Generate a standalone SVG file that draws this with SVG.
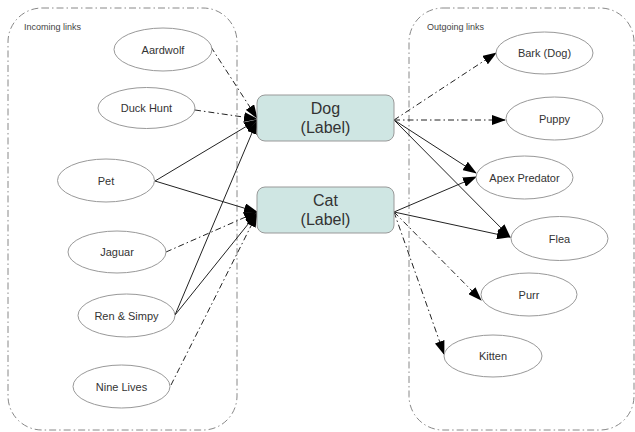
<svg xmlns="http://www.w3.org/2000/svg" width="635" height="432" viewBox="0 0 635 432">
<defs>
<style>
.cluster{fill:none;stroke:#888;stroke-width:1;stroke-dasharray:7,3,1.5,3}
.clabel{font-family:"Liberation Sans",Arial,sans-serif;font-size:9px;fill:#444}
.ell{fill:#fff;stroke:#999;stroke-width:1}
.etext{font-family:"Liberation Sans",Arial,sans-serif;font-size:11px;fill:#333;text-anchor:middle}
.box{fill:#cfe6e3;stroke:#999;stroke-width:1}
.btext{font-family:"Liberation Sans",Arial,sans-serif;font-size:16px;fill:#333;text-anchor:middle}
.e{fill:none;stroke:#222;stroke-width:1;marker-end:url(#arr)}
.dd{stroke-dasharray:6,3,1.5,3}
</style>
<marker id="arr" markerUnits="userSpaceOnUse" markerWidth="14" markerHeight="10" refX="13" refY="5" orient="auto" viewBox="0 0 14 10">
<path d="M0,0 L14,5 L0,10 z" fill="#000"/>
</marker>
</defs>
<g id="clusters">
<rect class="cluster" x="8" y="8" width="229" height="422" rx="34" ry="34"/>
<text class="clabel" x="24" y="30">Incoming links</text>
<rect class="cluster" x="409" y="8" width="225" height="422" rx="34" ry="34"/>
<text class="clabel" x="427" y="30">Outgoing links</text>
</g>
<g id="connectors">
<line class="e dd" x1="211" y1="47" x2="257" y2="118"/>
<line class="e dd" x1="195" y1="110" x2="257" y2="119"/>
<line class="e" x1="155" y1="181" x2="257" y2="120"/>
<line class="e" x1="175" y1="315" x2="257" y2="121"/>
<line class="e" x1="155" y1="181" x2="257" y2="212"/>
<line class="e dd" x1="166" y1="252" x2="257" y2="212"/>
<line class="e" x1="175" y1="315" x2="257" y2="213"/>
<line class="e dd" x1="171" y1="385" x2="257" y2="214"/>
<line class="e dd" x1="394" y1="120" x2="496" y2="53"/>
<line class="e dd" x1="394" y1="120" x2="505" y2="120"/>
<line class="e" x1="394" y1="120" x2="476" y2="173"/>
<line class="e" x1="394" y1="120" x2="510" y2="237"/>
<line class="e" x1="394" y1="212" x2="476" y2="177"/>
<line class="e" x1="394" y1="212" x2="510" y2="237"/>
<line class="e dd" x1="394" y1="212" x2="481" y2="300"/>
<line class="e dd" x1="394" y1="212" x2="444" y2="354"/>
</g>
<g id="aardwolf"><ellipse class="ell" cx="163" cy="49.5" rx="49" ry="21.5"/><text class="etext" x="163" y="53.5">Aardwolf</text></g>
<g id="duckhunt"><ellipse class="ell" cx="146.5" cy="108" rx="48.5" ry="20.5"/><text class="etext" x="146.5" y="112">Duck Hunt</text></g>
<g id="pet"><ellipse class="ell" cx="106" cy="180.5" rx="48.5" ry="21.5"/><text class="etext" x="106" y="184.5">Pet</text></g>
<g id="jaguar"><ellipse class="ell" cx="117" cy="252" rx="49" ry="21"/><text class="etext" x="117" y="256">Jaguar</text></g>
<g id="rensimpy"><ellipse class="ell" cx="126.5" cy="315.5" rx="48.5" ry="21.5"/><text class="etext" x="126.5" y="319.5">Ren &amp; Simpy</text></g>
<g id="ninelives"><ellipse class="ell" cx="121.5" cy="386.5" rx="48.5" ry="21.5"/><text class="etext" x="121.5" y="390.5">Nine Lives</text></g>
<g id="dog"><rect class="box" x="257" y="95" width="137" height="46" rx="8" ry="8"/><text class="btext" x="325.5" y="114">Dog</text><text class="btext" x="325.5" y="133">(Label)</text></g>
<g id="cat"><rect class="box" x="257" y="187" width="137" height="46" rx="8" ry="8"/><text class="btext" x="325.5" y="206">Cat</text><text class="btext" x="325.5" y="225">(Label)</text></g>
<g id="bark"><ellipse class="ell" cx="544.5" cy="53" rx="48.5" ry="21"/><text class="etext" x="544.5" y="57">Bark (Dog)</text></g>
<g id="puppy"><ellipse class="ell" cx="554.5" cy="118.5" rx="48.5" ry="21.5"/><text class="etext" x="554.5" y="122.5">Puppy</text></g>
<g id="apex"><ellipse class="ell" cx="524.5" cy="177.5" rx="48.5" ry="21.5"/><text class="etext" x="524.5" y="181.5">Apex Predator</text></g>
<g id="flea"><ellipse class="ell" cx="559.5" cy="238.5" rx="48.5" ry="22"/><text class="etext" x="559.5" y="242.5">Flea</text></g>
<g id="purr"><ellipse class="ell" cx="529" cy="294.5" rx="48" ry="21.5"/><text class="etext" x="529" y="298.5">Purr</text></g>
<g id="kitten"><ellipse class="ell" cx="493" cy="356" rx="49" ry="21"/><text class="etext" x="493" y="360">Kitten</text></g>
</svg>
